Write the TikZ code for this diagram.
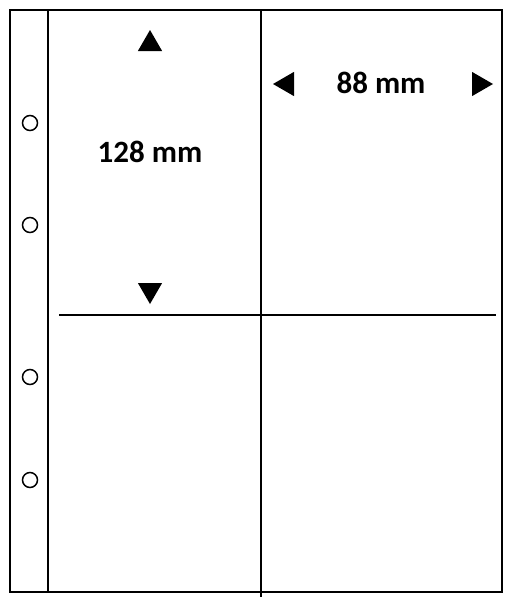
\documentclass[tikz,border=0pt]{standalone}
\usepackage{fontspec}
\setmainfont{Carlito}
\usepackage{tikz}
\usetikzlibrary{shapes.geometric}

\begin{document}
\begin{tikzpicture}[
    x=1pt, y=-1pt,
    font=\fontsize{31}{36}\selectfont\bfseries,
    frame/.style={line width=2.2pt},
    hole/.style={line width=1.5pt},
    pointer/.style={regular polygon, regular polygon sides=3, fill=black,
      minimum size=28pt, inner sep=0pt},
    measure/.style={inner sep=0pt}
  ]
  \useasboundingbox (0,0) rectangle (515,600);

  % Sheet outline and binding strip
  \draw[frame] (10,10) rectangle (502,592);
  \draw[frame] (48,10) -- (48,592);

  % Pocket dividers
  \draw[frame] (261,10) -- (261,597);
  \draw[frame] (59,315) -- (496,315);

  % Punched holes
  \foreach \y in {123,225,377,480}
    \draw[hole] (30,\y) circle (7.5);

  % Height of a pocket
  \node[pointer] (up) at (150,44) {};
  \node[measure] (height) at (150,152) {128 mm};
  \node[pointer, shape border rotate=180] (down) at (150,290) {};

  % Width of a pocket
  \node[pointer, shape border rotate=90] (left) at (287,84) {};
  \node[measure] (width) at (381,83) {88 mm};
  \node[pointer, shape border rotate=270] (right) at (479,84) {};
\end{tikzpicture}
\end{document}
